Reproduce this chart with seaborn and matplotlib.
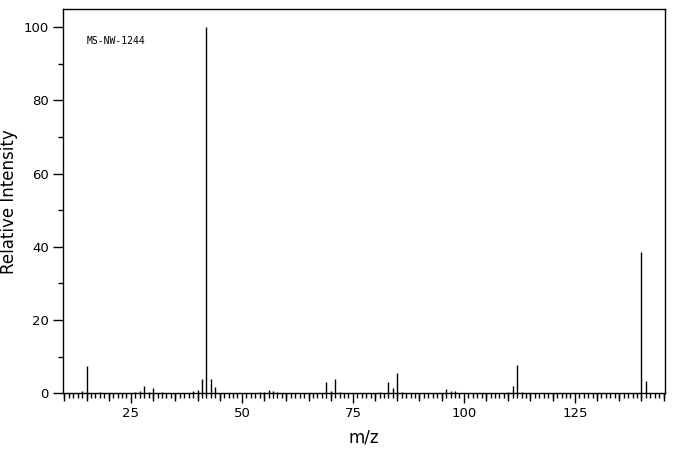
import matplotlib
matplotlib.use("Agg")
import matplotlib.pyplot as plt
import seaborn as sns
from matplotlib.ticker import MultipleLocator

# peak positions (m/z) and relative intensities
mz = [14, 15, 18, 26, 27, 28, 29, 30, 32, 39, 40, 41, 42, 43, 44,
      54, 55, 56, 57, 58, 69, 70, 71, 72, 81, 83, 84, 85, 86,
      96, 97, 98, 110, 111, 112, 113, 140, 141]
intensity = [0.6, 7.5, 0.3, 0.3, 0.5, 2.0, 0.4, 1.5, 0.3, 0.5, 0.9, 3.9, 100.0, 3.9, 1.8,
             0.45, 0.45, 0.9, 0.6, 0.3, 3.1, 0.6, 3.9, 0.3, 0.3, 3.1, 1.4, 5.6, 0.3,
             1.2, 0.6, 0.6, 0.35, 2.0, 7.8, 0.3, 38.6, 3.4]
x_ticks = [25, 50, 75, 100, 125]
y_ticks = [0, 20, 40, 60, 80, 100]
sample_id = "MS-NW-1244"

sns.set_style("ticks", {'text.color': 'black', 'axes.labelcolor': 'black',
                        'xtick.color': 'black', 'ytick.color': 'black',
                        'axes.edgecolor': 'black'})
plt.rcParams['font.family'] = ['DejaVu Sans']

fig = plt.figure(figsize=(6.76, 4.55), dpi=100)
ax = fig.add_axes([0.0932, 0.1356, 0.8905, 0.844])

ax.vlines(mz, 0, intensity, colors='black', linewidth=1.0)

ax.set_xlim(9.7, 145.3)
ax.set_ylim(0, 104.9)

ax.set_xticks(x_ticks)
ax.set_yticks(y_ticks)
ax.xaxis.set_minor_locator(MultipleLocator(1))
ax.yaxis.set_minor_locator(MultipleLocator(10))

# extra medium-length ticks every 5 on the x axis
ax2 = ax.secondary_xaxis('bottom')
ax2.set_xticks([t for t in range(10, 146, 5) if t % 25 != 0])
ax2.set_xticklabels([])
ax2.tick_params(length=7.7 * 0.72, width=1, color='black')
ax2.spines['bottom'].set_visible(False)

ax.tick_params(axis='x', which='major', length=10 * 0.72, width=1, labelsize=9.5, pad=3)
ax.tick_params(axis='x', which='minor', length=5.3 * 0.72, width=1)
ax.tick_params(axis='y', which='major', length=10 * 0.72, width=1, labelsize=9.5, pad=3)
ax.tick_params(axis='y', which='minor', length=5 * 0.72, width=1)

for s in ax.spines.values():
    s.set_linewidth(1)
    s.set_color('black')

ax.set_xlabel('m/z', fontsize=12, labelpad=6)
ax.set_ylabel('Relative Intensity', fontsize=12, labelpad=4)

ax.text(0.04, 0.917, sample_id, transform=ax.transAxes, fontsize=7,
        family='DejaVu Sans Mono', va='center', ha='left', color='black')

fig.savefig('out.png', dpi=100)
